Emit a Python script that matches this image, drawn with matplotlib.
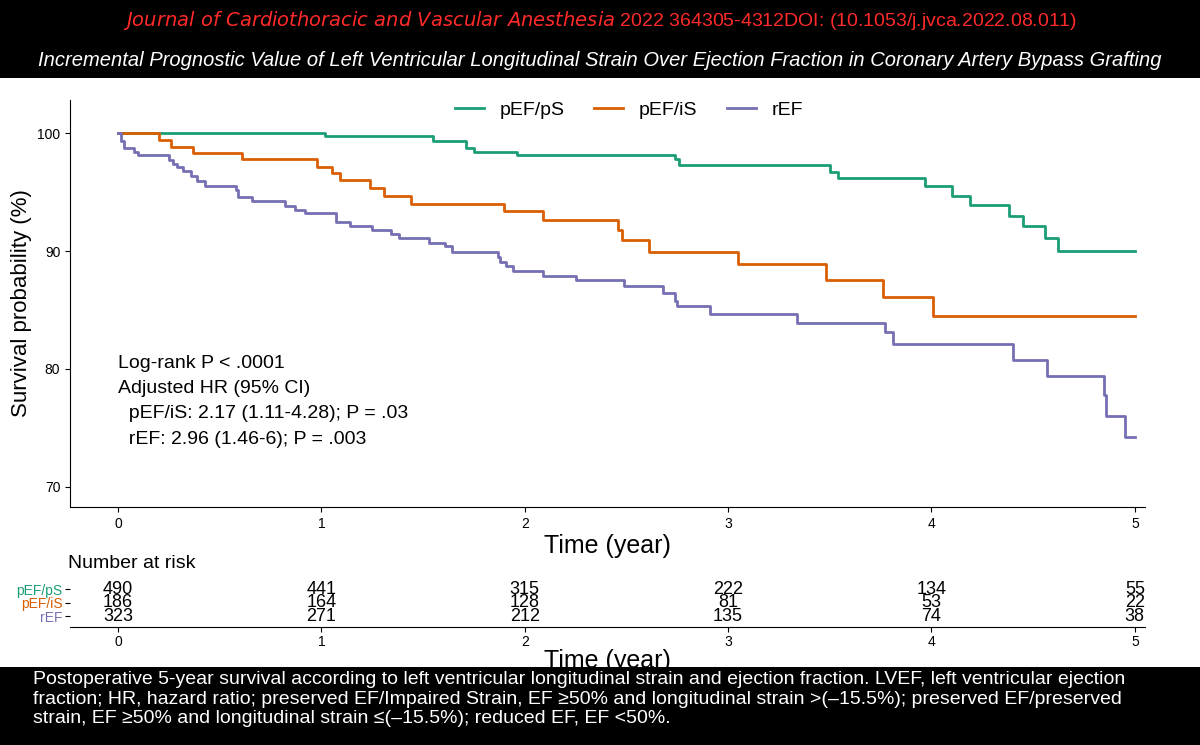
import matplotlib.pyplot as plt
from matplotlib.patches import Rectangle

plt.rcParams['font.family'] = ['Liberation Sans', 'DejaVu Sans']

groups = ['pEF/pS', 'pEF/iS', 'rEF']
colors = ['#1B9E77', '#D95F02', '#7570B3']

# step times (years) and survival (%)
t_ps = [0, 1.02, 1.55, 1.71, 1.75, 1.96, 2.74, 2.76, 3.50, 3.54, 3.97, 4.10, 4.19, 4.38, 4.45, 4.56, 4.62, 5.0]
s_ps = [100, 99.75, 99.3, 98.7, 98.4, 98.1, 97.8, 97.3, 96.7, 96.2, 95.5, 94.7, 93.9, 93.0, 92.1, 91.1, 90.0, 90.0]

t_is = [0, 0.20, 0.26, 0.37, 0.61, 0.98, 1.05, 1.09, 1.24, 1.31, 1.44, 1.90, 2.09, 2.46, 2.48, 2.61, 3.05, 3.48, 3.76, 4.01, 5.0]
s_is = [100, 99.4, 98.8, 98.3, 97.8, 97.1, 96.6, 96.0, 95.3, 94.7, 94.0, 93.4, 92.6, 91.8, 90.9, 89.9, 88.9, 87.5, 86.1, 84.5, 84.5]

t_ref = [0, 0.015, 0.03, 0.08, 0.10, 0.25, 0.27, 0.29, 0.32, 0.36, 0.39, 0.43, 0.58, 0.59, 0.66, 0.82, 0.87, 0.92,
         1.07, 1.14, 1.25, 1.34, 1.38, 1.53, 1.61, 1.64, 1.87, 1.88, 1.91, 1.94, 2.09, 2.25, 2.49, 2.68, 2.74, 2.75,
         2.91, 3.34, 3.77, 3.81, 4.40, 4.57, 4.85, 4.86, 4.95, 5.0]
s_ref = [100, 99.3, 98.7, 98.4, 98.1, 97.7, 97.4, 97.1, 96.8, 96.4, 95.9, 95.5, 95.2, 94.6, 94.2, 93.8, 93.5, 93.2,
         92.5, 92.1, 91.8, 91.4, 91.1, 90.7, 90.4, 89.9, 89.5, 89.1, 88.7, 88.3, 87.9, 87.5, 87.0, 86.4, 85.8, 85.3,
         84.7, 83.9, 83.1, 82.1, 80.8, 79.4, 77.8, 76.0, 74.2, 74.2]

risk_times = [0, 1, 2, 3, 4, 5]
risk_ps = [490, 441, 315, 222, 134, 55]
risk_is = [186, 164, 128, 81, 53, 22]
risk_ref = [323, 271, 212, 135, 74, 38]

fig = plt.figure(figsize=(12, 7.45), dpi=100, facecolor='black')
fig.patches.append(Rectangle((0, 1 - 667 / 745), 1, (667 - 78) / 745, transform=fig.transFigure,
                             facecolor='white', edgecolor='none', zorder=-5))

fig.text(0.5, 1 - 20 / 745, r'$\it{Journal\ of\ Cardiothoracic\ and\ Vascular\ Anesthesia}$ 2022 364305-4312DOI: (10.1053/j.jvca.2022.08.011)',
         color='#ff2a2a', fontsize=14, ha='center', va='center')
fig.text(0.5, 1 - 60 / 745, 'Incremental Prognostic Value of Left Ventricular Longitudinal Strain Over Ejection Fraction in Coronary Artery Bypass Grafting',
         color='white', fontsize=14.5, style='italic', ha='center', va='center')

ax = fig.add_axes([70 / 1200, 1 - 507 / 745, 1075 / 1200, 407 / 745])
ax.set_facecolor('none')
for t, s, c, g in zip([t_ps, t_is, t_ref], [s_ps, s_is, s_ref], colors, groups):
    ax.step(t, s, where='post', color=c, lw=2, label=g)
ax.set_xlim(-0.236, 5.05)
ax.set_ylim(68.3, 102.8)
ax.set_yticks([70, 80, 90, 100])
ax.set_xticks(risk_times)
for sp in ['top', 'right']:
    ax.spines[sp].set_visible(False)
ax.tick_params(labelsize=10)
ax.set_ylabel('Survival probability (%)', fontsize=16)
ax.set_xlabel('Time (year)', fontsize=18, labelpad=2)
ax.legend(loc='upper center', bbox_to_anchor=(0.52, 1.04), ncol=3, frameon=False, fontsize=14,
          handlelength=1.5, columnspacing=1.5)
notes = ['Log-rank P < .0001', 'Adjusted HR (95% CI)', '  pEF/iS: 2.17 (1.11-4.28); P = .03', '  rEF: 2.96 (1.46-6); P = .003']
for i, n in enumerate(notes):
    ax.text(0.0, 80.5 - i * 2.15, n, fontsize=14, va='center')

rt = fig.add_axes([70 / 1200, 1 - 627 / 745, 1075 / 1200, 50 / 745])
rt.set_facecolor('none')
for row, (vals, c) in enumerate(zip([risk_ps, risk_is, risk_ref], colors)):
    for x, v in zip(risk_times, vals):
        rt.text(x, 2 - row, str(v), ha='center', va='center', fontsize=13)
rt.set_xlim(-0.236, 5.05)
rt.set_ylim(-0.8, 2.9)
rt.set_xticks(risk_times)
rt.set_yticks([2, 1, 0])
rt.set_yticklabels(groups, fontsize=10)
for lab, c in zip(rt.get_yticklabels(), colors):
    lab.set_color(c)
rt.spines['top'].set_visible(False)
rt.spines['right'].set_visible(False)
rt.spines['left'].set_visible(False)
rt.tick_params(labelsize=10, pad=2)
rt.set_xlabel('Time (year)', fontsize=18, labelpad=0)
fig.text(68 / 1200, 1 - 563 / 745, 'Number at risk', fontsize=14, va='center')

caption = ('Postoperative 5-year survival according to left ventricular longitudinal strain and ejection fraction. LVEF, left ventricular ejection\n'
           'fraction; HR, hazard ratio; preserved EF/Impaired Strain, EF \u226550% and longitudinal strain >(\u201315.5%); preserved EF/preserved\n'
           'strain, EF \u226550% and longitudinal strain \u2264(\u201315.5%); reduced EF, EF <50%.')
fig.text(33 / 1200, 1 - 671 / 745, caption, color='white', fontsize=14, va='top', linespacing=1.2)

fig.savefig('out.png', dpi=100, facecolor='black')
